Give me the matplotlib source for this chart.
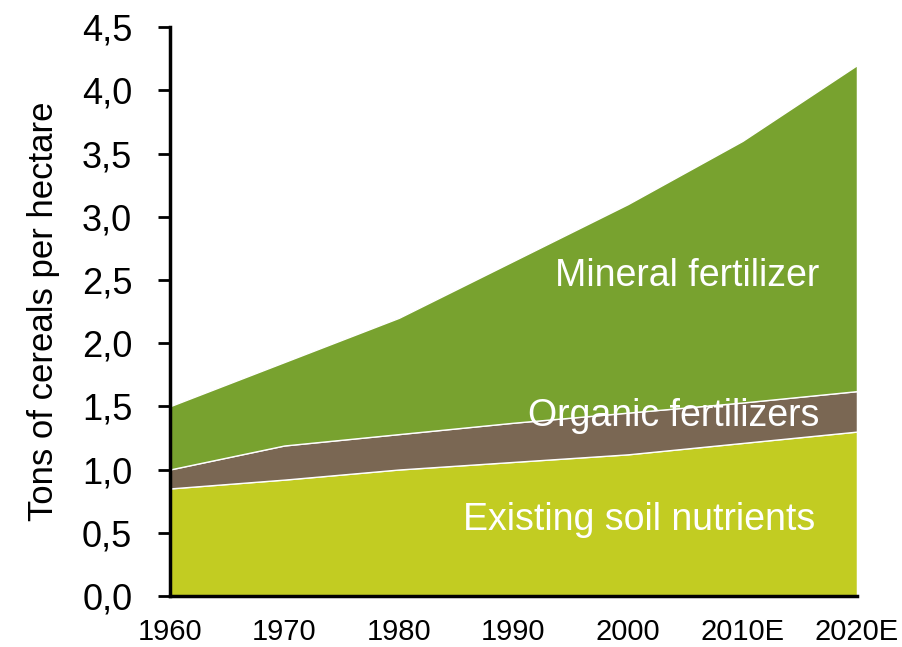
import numpy as np
import matplotlib.pyplot as plt

plt.rcParams['font.family'] = ['Liberation Sans', 'DejaVu Sans']

years = ['1960', '1970', '1980', '1990', '2000', '2010E', '2020E']
soil = [0.85, 0.92, 1.00, 1.06, 1.12, 1.21, 1.30]
organic = [0.15, 0.27, 0.28, 0.31, 0.33, 0.32, 0.32]
mineral = [0.50, 0.66, 0.92, 1.28, 1.65, 2.07, 2.58]

x = np.arange(len(years))

fig = plt.figure(figsize=(9.03, 6.47), dpi=100)
ax = fig.add_axes([0.188, 0.079, 0.761, 0.879])

ax.stackplot(x, soil, organic, mineral,
             colors=['#C2CC22', '#7A6753', '#78A22F'],
             edgecolor='white', linewidth=1.0)

ax.set_xlim(0, len(years) - 1)
ax.set_ylim(0, 4.5)
ax.set_xticks(x)
ax.set_xticklabels(years, fontsize=21)
ax.tick_params(axis='x', length=0, pad=16)
yt = np.arange(0, 4.51, 0.5)
ax.set_yticks(yt)
ax.set_yticklabels([f'{v:.1f}'.replace('.', ',') for v in yt], fontsize=26)
ax.tick_params(axis='y', length=9, width=2, direction='out', pad=18)

for s in ['top', 'right']:
    ax.spines[s].set_visible(False)
for s in ['left', 'bottom']:
    ax.spines[s].set_linewidth(2.5)

ax.set_ylabel('Tons of cereals per hectare', fontsize=25, labelpad=16)

ax.text(4.515, 2.53, 'Mineral fertilizer', color='white', fontsize=27, ha='center', va='center')
ax.text(4.40, 1.425, 'Organic fertilizers', color='white', fontsize=27, ha='center', va='center')
ax.text(4.10, 0.60, 'Existing soil nutrients', color='white', fontsize=27, ha='center', va='center')

fig.savefig('out.png', dpi=100)
